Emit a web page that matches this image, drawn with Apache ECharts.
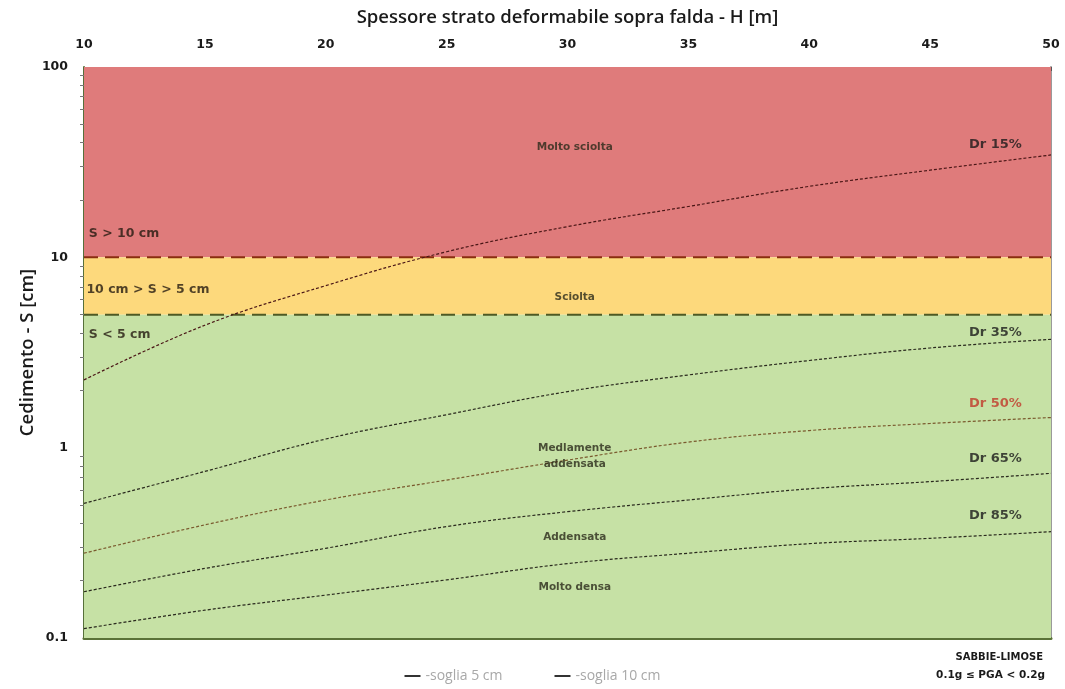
<!DOCTYPE html>
<html>
<head>
<meta charset="utf-8">
<script src="https://cdn.jsdelivr.net/npm/echarts@6/dist/echarts.min.js"></script>
<style>html,body{margin:0;padding:0;background:#fff}#c{width:1065px;height:689px}</style>
</head>
<body>
<div id="c"></div>
<script>
// ---- data ----
const H = [10, 15, 20, 25, 30, 35, 40, 45, 50];
const dr15 = [2.27, 4.4, 7.1, 10.7, 14.5, 18.5, 23.6, 28.7, 34.5];
const dr35 = [0.51, 0.75, 1.11, 1.49, 1.97, 2.41, 2.87, 3.34, 3.71];
const dr50 = [0.279, 0.393, 0.531, 0.676, 0.86, 1.07, 1.23, 1.34, 1.44];
const dr65 = [0.175, 0.232, 0.296, 0.385, 0.461, 0.531, 0.608, 0.663, 0.733];
const dr85 = [0.112, 0.140, 0.168, 0.202, 0.246, 0.279, 0.313, 0.334, 0.362];
const curveNames = ['Dr 15%', 'Dr 35%', 'Dr 50%', 'Dr 65%', 'Dr 85%'];
const thresholds = [5, 10];
const thresholdNames = ['soglia 5 cm', 'soglia 10 cm'];
const xTicks = [10, 15, 20, 25, 30, 35, 40, 45, 50];
const yTicks = [0.1, 1, 10, 100];
// label anchor positions in data units [H, S]
const curveLabelPos = [[47.7, 39], [47.7, 4.0], [47.7, 1.7], [47.7, 0.88], [47.7, 0.44]];
const bandLabels = ['Molto sciolta', 'Sciolta', 'Medlamente\naddensata', 'Addensata', 'Molto densa'];
const bandLabelPos = [[30.3, 37.8], [30.3, 6.2], [30.3, 0.9], [30.3, 0.34], [30.3, 0.185]];
const sideLabels = ['S > 10 cm', '10 cm > S > 5 cm', 'S < 5 cm'];
const sideLabelPos = [[10.2, 13.3], [10.1, 6.75], [10.2, 3.9]];

const curves = [dr15, dr35, dr50, dr65, dr85];
const curveColors = ['#4a1616', '#2a2a1e', '#7a5a2e', '#2a2a1e', '#2a2a1e'];
const labelColors = ['#1a1a1a', '#1a1a1a', '#c0392b', '#1a1a1a', '#1a1a1a'];

const series = [];
// background bands
series.push({
  type: 'line', name: 'bands', data: [], silent: true, z: 0,
  markArea: {
    silent: true,
    data: [
      [{ yAxis: 10, itemStyle: { color: '#df7b7b', opacity: 1 } }, { yAxis: 100 }],
      [{ yAxis: 5, itemStyle: { color: '#fdd97c', opacity: 1 } }, { yAxis: 10 }],
      [{ yAxis: 0.1, itemStyle: { color: '#c6e1a5', opacity: 1 } }, { yAxis: 5 }]
    ]
  }
});
// thresholds
const thrColors = ['#4e5a24', '#8a2e10'];
thresholds.forEach((t, i) => {
  series.push({
    type: 'line', name: thresholdNames[i], symbol: 'none', z: 3,
    data: [[10, t], [50, t]],
    lineStyle: { color: thrColors[i], width: 2, type: [14, 7] },
    itemStyle: { color: '#333' }
  });
});
// curves
curves.forEach((c, i) => {
  series.push({
    type: 'line', name: curveNames[i], symbol: 'none', smooth: 0.4, z: 4,
    data: H.map((h, j) => [h, c[j]]),
    lineStyle: { color: curveColors[i], width: 1.2, type: [3, 2] }
  });
});
// curve labels
series.push({
  type: 'scatter', name: 'curveLabels', symbolSize: 0, z: 5, silent: true,
  data: curveNames.map((n, i) => ({
    value: curveLabelPos[i], name: n,
    label: { color: labelColors[i] }
  })),
  label: {
    show: true, position: 'inside', formatter: p => p.name,
    fontFamily: 'DejaVu Sans', fontWeight: 'bold', fontSize: 13
  }
});
// band labels
series.push({
  type: 'scatter', name: 'bandLabels', symbolSize: 0, z: 5, silent: true,
  data: bandLabels.map((n, i) => ({ value: bandLabelPos[i], name: n })),
  label: {
    show: true, position: 'inside', formatter: p => p.name, align: 'center',
    fontFamily: 'DejaVu Sans', fontWeight: 'bold', fontSize: 10.5, color: '#2a2a1a', lineHeight: 16
  }
});
// side labels
series.push({
  type: 'scatter', name: 'sideLabels', symbolSize: 0, z: 5, silent: true,
  data: sideLabels.map((n, i) => ({ value: sideLabelPos[i], name: n })),
  label: {
    show: true, position: 'right', distance: 0, formatter: p => p.name,
    fontFamily: 'DejaVu Sans', fontWeight: 'bold', fontSize: 12.5, color: '#241a10'
  }
});

const chart = echarts.init(document.getElementById('c'));
chart.setOption({
  animation: false,
  backgroundColor: '#ffffff',
  grid: { left: 84, right: 14, top: 67, bottom: 51, containLabel: false, outerBoundsMode: 'none' },
  xAxis: [{
    type: 'value', position: 'top', min: 10, max: 50, interval: 5,
    name: 'Spessore strato deformabile sopra falda - H [m]',
    nameLocation: 'middle', nameGap: 40,
    nameTextStyle: { fontFamily: 'Open Sans', fontWeight: 600, fontSize: 18.5, color: '#1a1a1a' },
    axisLine: { show: false },
    axisTick: { show: true, inside: true, length: 4, lineStyle: { color: '#555' } },
    minorTick: { show: true, splitNumber: 5, length: 2, lineStyle: { color: '#666' } },
    splitLine: { show: false },
    axisLabel: { fontFamily: 'DejaVu Sans', fontWeight: 'bold', fontSize: 12.5, color: '#1a1a1a', margin: 16 }
  }, {
    type: 'value', position: 'bottom', min: 10, max: 50,
    axisLine: { show: true, lineStyle: { color: '#5a7238', width: 3 } },
    axisTick: { show: false }, axisLabel: { show: false }, splitLine: { show: false }
  }],
  yAxis: [{
    type: 'log', min: 0.1, max: 100, logBase: 10,
    name: 'Cedimento - S [cm]', nameLocation: 'middle', nameGap: 47, nameMoveOverlap: false,
    nameTextStyle: { fontFamily: 'Open Sans', fontWeight: 600, fontSize: 18.5, color: '#1a1a1a' },
    axisLine: { show: true, lineStyle: { color: '#56703a', width: 2 } },
    axisTick: { show: false },
    minorTick: { show: true, splitNumber: 9, length: 4, lineStyle: { color: '#777' } },
    splitLine: { show: false },
    axisLabel: { fontFamily: 'DejaVu Sans', fontWeight: 'bold', fontSize: 12.5, color: '#1a1a1a', margin: 16,
      formatter: v => (v < 1 ? v.toFixed(1) : String(Math.round(v))) }
  }, {
    type: 'log', min: 0.1, max: 100, position: 'right',
    axisLine: { show: true, lineStyle: { color: '#9a9a9a', width: 2 } },
    axisTick: { show: false }, axisLabel: { show: false }, splitLine: { show: false }
  }],
  legend: {
    data: thresholdNames, bottom: 1, left: 'center', itemGap: 52, itemWidth: 16, itemHeight: 2,
    icon: 'rect',
    textStyle: { fontFamily: 'Open Sans', fontSize: 14, color: '#a8a8a8' },
    formatter: n => '-' + n
  },
  graphic: [{
    type: 'text', right: 22, bottom: 27,
    style: { text: 'SABBIE-LIMOSE', fontFamily: 'DejaVu Sans', fontWeight: 'bold', fontSize: 10, fill: '#1a1a1a', textAlign: 'right' }
  }, {
    type: 'text', right: 20, bottom: 8,
    style: { text: '0.1g ≤ PGA < 0.2g', fontFamily: 'DejaVu Sans', fontWeight: 'bold', fontSize: 10.5, fill: '#1a1a1a', textAlign: 'right' }
  }],
  series: series
});
</script>
</body>
</html>
